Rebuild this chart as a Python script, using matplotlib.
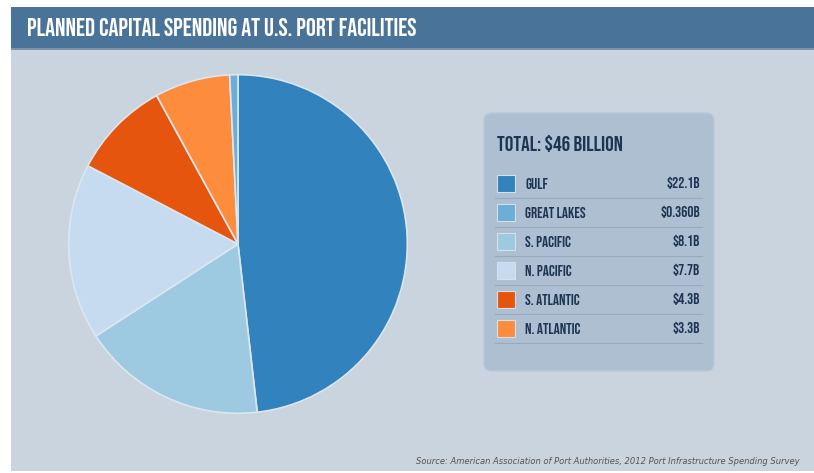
import matplotlib.pyplot as plt
from matplotlib.patches import Rectangle, FancyBboxPatch

# Data
regions = ['GULF', 'GREAT LAKES', 'S. PACIFIC', 'N. PACIFIC', 'S. ATLANTIC', 'N. ATLANTIC']
spending = [22.1, 0.360, 8.1, 7.7, 4.3, 3.3]
value_labels = ['$22.1B', '$0.360B', '$8.1B', '$7.7B', '$4.3B', '$3.3B']
colors = ['#3182bd', '#6baed6', '#9ecae1', '#c6dbef', '#e6550d', '#fd8d3c']
# clockwise order of slices from 12 o'clock
pie_order = [0, 2, 3, 4, 5, 1]

title = 'PLANNED CAPITAL SPENDING AT U.S. PORT FACILITIES'
total_label = 'TOTAL: $46 BILLION'
source = 'Source: American Association of Port Authorities, 2012 Port Infrastructure Spending Survey'

narrow = ['Bebas Neue', 'DejaVu Sans']
W, H = 814, 473

fig = plt.figure(figsize=(W / 100, H / 100), dpi=100)
fig.patch.set_facecolor('white')

# background canvas in pixel coords
bg = fig.add_axes([0, 0, 1, 1])
bg.set_xlim(0, W)
bg.set_ylim(H, 0)
bg.axis('off')
bg.add_patch(Rectangle((11, 7), W - 11, H - 9, facecolor='#c9d4df', edgecolor='none'))
bg.add_patch(Rectangle((11, 7), W - 11, 41, facecolor='#4a7399', edgecolor='none'))
bg.add_patch(Rectangle((11, 48), W - 11, 2, facecolor='#7f93a8', edgecolor='none'))
bg.text(27, 27, title, color='white', fontsize=17.8, family=narrow,
        va='center', ha='left')

# legend box
bg.add_patch(FancyBboxPatch((484, 113), 230, 258, boxstyle='round,pad=0,rounding_size=8',
                            facecolor='#aebfd1', edgecolor='#b9c8d8', linewidth=1))
bg.text(497, 143, total_label, color='#1d3552', fontsize=15.4, family=narrow,
        va='center', ha='left')
row_y0, row_h = 183, 29
for i, (name, val, c) in enumerate(zip(regions, value_labels, colors)):
    y = row_y0 + i * row_h
    bg.add_patch(Rectangle((497, y - 8), 18, 17, facecolor=c, edgecolor='#d5e0ea', linewidth=0.8))
    bg.text(525, y, name, color='#1d3552', fontsize=11, family=narrow,
            va='center', ha='left')
    bg.text(700, y, val, color='#1d3552', fontsize=11, family=narrow,
            va='center', ha='right')
    bg.plot([495, 702], [y + 15, y + 15], color='#97abc0', linewidth=0.8)

bg.text(800, 461, source, color='#555555', fontsize=6.05, style='italic',
        va='center', ha='right')

# pie
ax = fig.add_axes([67 / W, (H - 415) / H, 342 / W, 342 / H])
ax.pie([spending[i] for i in pie_order], colors=[colors[i] for i in pie_order],
       startangle=90, counterclock=False, radius=1,
       wedgeprops=dict(edgecolor='#dce6f0', linewidth=1.2))
ax.set_xlim(-1.01, 1.01)
ax.set_ylim(-1.01, 1.01)
ax.set_aspect('equal')
ax.axis('off')

plt.savefig('out.png', dpi=100)
